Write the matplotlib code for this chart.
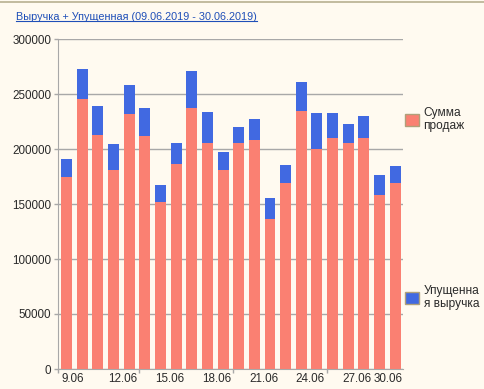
import matplotlib
matplotlib.use("Agg")
from matplotlib import pyplot as plt
from matplotlib.patches import Patch
import numpy as np

# data (thousands -> rubles)
days = ['09.06', '10.06', '11.06', '12.06', '13.06', '14.06', '15.06', '16.06',
        '17.06', '18.06', '19.06', '20.06', '21.06', '22.06', '23.06', '24.06',
        '25.06', '26.06', '27.06', '28.06', '29.06', '30.06']
sales = [174800, 245500, 212700, 180900, 231800, 211800, 151800, 186400,
         237300, 205500, 180900, 205500, 208200, 136400, 169100, 234500,
         200000, 210000, 205500, 210000, 158200, 169100]
totals = [190900, 272700, 239000, 204500, 258200, 237300, 167300, 205500,
          270900, 233600, 197300, 220000, 227300, 155500, 185500, 260900,
          232700, 232700, 222700, 230000, 176400, 184500]
missed = [t - s for t, s in zip(totals, sales)]
tick_labels = ['9.06', '12.06', '15.06', '18.06', '21.06', '24.06', '27.06', '30.06']
tick_idx = [0, 3, 6, 9, 12, 15, 18, 21]

bg = '#FFFAF0'
grid_col = '#A8A8A8'
salmon = '#FA8072'
blue = '#4169E1'
txt = '#2A2A2A'

plt.rcParams['font.family'] = ['Liberation Sans', 'DejaVu Sans']
plt.rcParams['font.size'] = 8

fig = plt.figure(figsize=(4.85, 3.89), dpi=100, facecolor=bg)
ax = fig.add_axes([58 / 485, 1 - 369 / 389, (403 - 58) / 485, (369 - 39) / 389])
ax.set_facecolor(bg)

x = np.arange(len(days))
w = 0.7
ax.bar(x, sales, w, color=salmon, zorder=3)
ax.bar(x, missed, w, bottom=sales, color=blue, zorder=3)

ax.set_xlim(-0.55, 21.5)
ax.set_ylim(0, 300000)
ax.set_yticks(range(0, 300001, 50000))
ax.set_yticklabels([str(v) for v in range(0, 300001, 50000)], color=txt, fontsize=8.4)
ax.yaxis.grid(True, color=grid_col, linewidth=1, zorder=0)
ax.tick_params(axis='y', length=3, width=1, color=grid_col, pad=2)

# small tick marks under the axis
ax.set_xticks([-0.55, 4.65, 10.65, 16.65])
ax.set_xticklabels([])
ax.tick_params(axis='x', length=3, width=1, color=grid_col)

# date labels start at the left edge of their bar, the last one is kept inside
for i, lab in zip(tick_idx, tick_labels):
    if i == len(days) - 1:
        ax.text(21.5, -0.012, lab, transform=ax.get_xaxis_transform(),
                ha='right', va='top', color=txt, fontsize=8.4)
    else:
        ax.text(i - w / 2, -0.012, lab, transform=ax.get_xaxis_transform(),
                ha='left', va='top', color=txt, fontsize=8.4)

for s in ['top', 'right']:
    ax.spines[s].set_visible(False)
ax.spines['left'].set_color(grid_col)
ax.spines['bottom'].set_color(grid_col)

# title as underlined link
title = fig.text(16 / 485, 1 - 17 / 389, 'Выручка + Упущенная (09.06.2019 - 30.06.2019)',
                 color='#1F4FB8', ha='left', va='center', fontsize=7.8)
fig.canvas.draw()
bb = title.get_window_extent().transformed(fig.transFigure.inverted())
fig.add_artist(plt.Line2D([bb.x0, bb.x1], [bb.y0 + 0.002, bb.y0 + 0.002],
                          color='#1F4FB8', linewidth=0.8))
# top border
fig.add_artist(plt.Line2D([0, 1], [1 - 1.5 / 389, 1 - 1.5 / 389], color='#B8B090', linewidth=1.2))

edge = '#B0A07A'
for col, lab, yc in [(salmon, 'Сумма\nпродаж', 119.5), (blue, 'Упущенна\nя выручка', 297.5)]:
    leg = fig.legend(handles=[Patch(facecolor=col, edgecolor=edge, linewidth=1)],
                     labels=[lab], loc='center left',
                     bbox_to_anchor=(405 / 485, 1 - yc / 389), frameon=False,
                     borderpad=0, borderaxespad=0, handlelength=1.2, handleheight=1.2,
                     handletextpad=0.35, labelcolor=txt, fontsize=8.6)
    for t in leg.get_texts():
        t.set_linespacing(1.15)

fig.savefig('out.png', dpi=100, facecolor=bg)
